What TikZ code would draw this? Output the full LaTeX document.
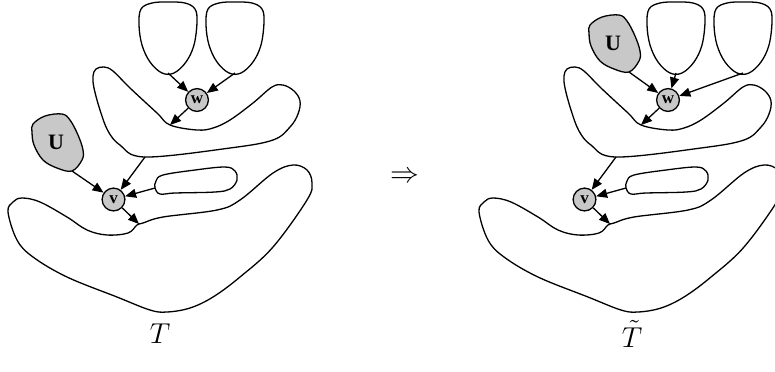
\documentclass[tikz,border=0pt]{standalone}
\usepackage{fontspec}
\setmainfont{Liberation Serif}
\usetikzlibrary{arrows.meta}
\definecolor{tkGray}{RGB}{200,200,200}

\begin{document}
\begin{tikzpicture}[
  x=0.5pt, y=-0.5pt, line width=0.65pt,
  vert/.style={circle, draw, fill=tkGray, minimum size=11.4pt, inner sep=0pt, font=\fontsize{8.5}{9}\selectfont\bfseries},
  region/.style={draw, smooth cycle, tension=0.6},
  arr/.style={-{Triangle[length=5.5pt, width=4.5pt]}},
]
\path[use as bounding box] (0,0) rectangle (775,371);
\clip (0,0) rectangle (775,371);
% leaf blobs
\foreach \dx/\bn in {0/ba, 67/bb, 508/bc, 575/bd} {
  \draw[region, shift={(\dx,0)}] plot coordinates {(162,73) (150,62) (142,45) (139,25) (141,9) (152,3) (168,2) (185,3) (195,9) (197,22) (194,45) (186,62) (174,73)};
  \coordinate (\bn) at (\dx+168,73);
}
% common part of T and T~
\foreach \dx/\t in {0/l, 471/r} {
  \begin{scope}[shift={(\dx,0)}]
    \draw[region] plot coordinates {(93,76) (96,69) (104,67) (113,71) (130,88) (157,113) (170,125) (197,130) (213,128) (230,120) (253,103) (272,87) (283,85) (294,91) (300,101) (298,114) (290,127) (273,140) (230,148) (145,157) (120,145) (108,131) (100,110) (94,88)};
    \draw[region] plot coordinates {(156,181) (163,175) (195,170) (225,167) (235,171) (237,180) (230,189) (215,192) (175,193) (160,194) (155,188)};
    \draw[region] plot coordinates {(8,212) (13,202) (22,198) (40,202) (67,217) (87,230) (107,235) (128,233) (137,225) (143,223) (163,217) (217,210) (240,200) (273,173) (293,165) (307,170) (312,183) (307,200) (273,247) (240,277) (213,297) (190,308) (167,312) (150,310) (117,297) (67,277) (33,257) (17,240)};
    \coordinate (mt\t) at (170,125);
    \coordinate (mc\t) at (145,157);
    \coordinate (ov\t) at (155,188);
    \coordinate (bt\t) at (139,224);
    \node[vert] (w\t) at (197,100) {w};
    \node[vert] (v\t) at (113.5,199.5) {v};
    \draw[arr] (w\t) -- (mt\t);
    \draw[arr] (mc\t) -- (v\t);
    \draw[arr] (ov\t) -- (v\t);
    \draw[arr] (v\t) -- (bt\t);
  \end{scope}
}
% U
\foreach \dx/\dy/\t in {0/0/l, 557/-99/r} {
  \begin{scope}[shift={(\dx,\dy)}]
    \draw[region, fill=tkGray] plot coordinates {(33,124) (45,116) (62,114) (70,120) (78,135) (83,150) (82,160) (72,171) (57,168) (43,160) (34,145) (32,132)};
    \node[font=\fontsize{11}{12}\selectfont\bfseries] (u\t) at (56,142) {U};
    \coordinate (ub\t) at (72,171);
  \end{scope}
}
% arrows
\draw[arr] (ba) -- (wl);
\draw[arr] (bb) -- (wl);
\draw[arr] (ubl) -- (vl);
\draw[arr] (ubr) -- (wr);
\draw[arr] (bc) -- (wr);
\draw[arr] (bd) -- (wr);
% labels
\node (imp) at (405,177) {\Large $\Rightarrow$};
\node (tl) at (160,334) {\Large $T$};
\node (tr) at (632,334) {\Large $\tilde{T}$};
\end{tikzpicture}
\end{document}
